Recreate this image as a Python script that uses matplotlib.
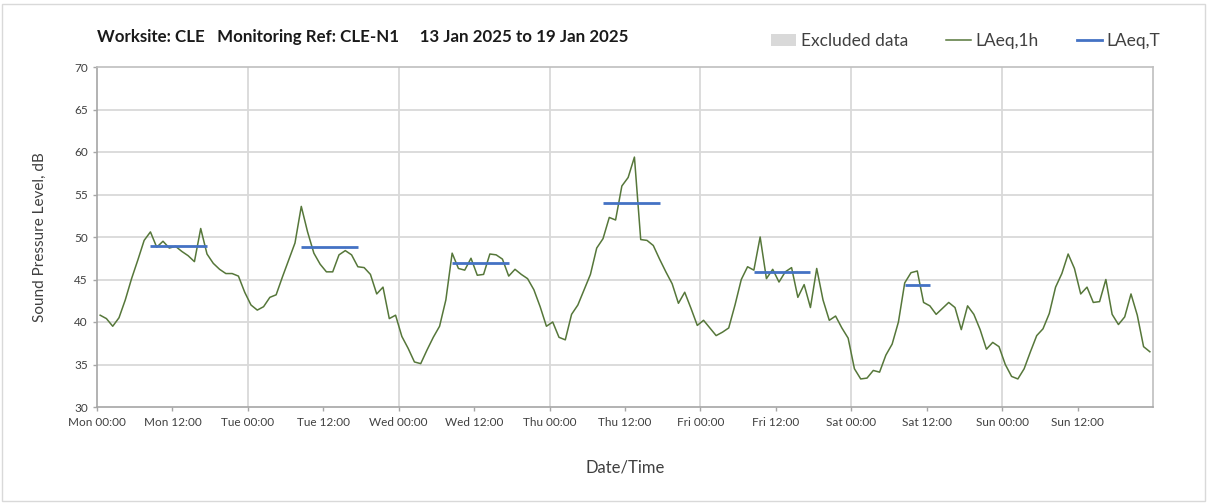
import numpy as np
import pandas as pd
import matplotlib
matplotlib.use("Agg")
import matplotlib.pyplot as plt
from matplotlib.patches import Patch, Rectangle
from matplotlib.lines import Line2D

plt.rcParams['font.family'] = ['Lato', 'DejaVu Sans']

# ---- data ----
start = "2025-01-13 00:30"
laeq_1h = [
    40.8, 40.4, 39.5, 40.5, 42.6, 45.1, 47.3, 49.6, 50.6, 48.8,
    49.5, 48.7, 48.9, 48.3, 47.8, 47.1, 51.0, 48.0, 46.9, 46.2,
    45.7, 45.7, 45.4, 43.5, 42.0, 41.4, 41.8, 42.9, 43.2, 45.3,
    47.3, 49.3, 53.6, 50.6, 48.1, 46.8, 45.9, 45.9, 47.9, 48.4,
    47.9, 46.5, 46.4, 45.6, 43.3, 44.1, 40.4, 40.8, 38.3, 36.9,
    35.3, 35.1, 36.7, 38.2, 39.5, 42.6, 48.1, 46.3, 46.1, 47.5,
    45.5, 45.6, 48.0, 47.9, 47.4, 45.4, 46.2, 45.6, 45.1, 43.8,
    41.8, 39.5, 40.0, 38.2, 37.9, 40.9, 42.0, 43.8, 45.6, 48.7,
    49.8, 52.3, 52.0, 56.0, 57.0, 59.4, 49.7, 49.6, 49.0, 47.4,
    45.9, 44.5, 42.2, 43.5, 41.6, 39.6, 40.2, 39.3, 38.4, 38.8,
    39.3, 42.0, 45.0, 46.5, 46.1, 50.0, 45.1, 46.2, 44.7, 45.9,
    46.4, 42.9, 44.4, 41.7, 46.3, 42.6, 40.2, 40.7, 39.3, 38.1,
    34.5, 33.3, 33.4, 34.3, 34.1, 36.1, 37.4, 40.0, 44.6, 45.8,
    46.0, 42.3, 41.9, 40.9, 41.6, 42.3, 41.7, 39.1, 41.9, 40.9,
    39.1, 36.8, 37.6, 37.1, 35.0, 33.6, 33.3, 34.5, 36.5, 38.4,
    39.2, 41.0, 44.1, 45.7, 48.0, 46.3, 43.3, 44.1, 42.3, 42.4,
    45.0, 40.9, 39.7, 40.6, 43.3, 40.8, 37.1, 36.5,
]
# LAeq,T periods (first and last hourly mid-point) and values
period_start = ["2025-01-13 08:30", "2025-01-14 08:30", "2025-01-15 08:30",
                "2025-01-16 08:30", "2025-01-17 08:30", "2025-01-18 08:30"]
period_end = ["2025-01-13 17:30", "2025-01-14 17:30", "2025-01-15 17:30",
              "2025-01-16 17:30", "2025-01-17 17:30", "2025-01-18 12:30"]
laeq_T = [49.0, 48.8, 46.9, 54.0, 45.9, 44.4]

x_start = "2025-01-13 00:00"
x_end = "2025-01-20 00:00"
y_min, y_max, y_step = 30, 70, 5

times = pd.date_range(start, periods=len(laeq_1h), freq="h")

# ---- figure ----
fig = plt.figure(figsize=(12.08, 5.03), dpi=100)
ax = fig.add_axes([97/1208, 1-407/503, (1153-97)/1208, (407-67)/503])

green = '#56773a'
blue = '#4472c4'

ax.plot(times, laeq_1h, color=green, lw=1.1, zorder=3)
for s, e, v in zip(period_start, period_end, laeq_T):
    ax.plot([pd.Timestamp(s), pd.Timestamp(e)], [v, v], color=blue, lw=2.0,
            solid_capstyle='butt', zorder=4)

ax.set_xlim(pd.Timestamp(x_start), pd.Timestamp(x_end))
ax.set_ylim(y_min, y_max)
ax.set_yticks(np.arange(y_min, y_max + 1, y_step))

ticks = pd.date_range(x_start, x_end, freq="12h")[:-1]
ax.set_xticks(ticks)
ax.set_xticklabels([t.strftime("%a %H:%M") for t in ticks])

# gridlines
for yv in np.arange(y_min + y_step, y_max, y_step):
    ax.axhline(yv, color='#d9d9d9', lw=1.3, zorder=1)
for t in pd.date_range(x_start, x_end, freq="24h")[1:-1]:
    ax.axvline(t, color='#d9d9d9', lw=1.3, zorder=1)

for sp in ax.spines.values():
    sp.set_color('#bfbfbf')
    sp.set_linewidth(1.2)
ax.spines['left'].set_color('#a6a6a6')
ax.spines['bottom'].set_color('#a6a6a6')

ax.tick_params(axis='both', colors='#a6a6a6', labelcolor='#404040',
               labelsize=8.5, length=3, width=1)
ax.tick_params(axis='x', pad=4)

ax.set_ylabel("Sound Pressure Level, dB", fontsize=11, color='#404040', labelpad=20)
ax.set_xlabel("Date/Time", fontsize=12, color='#404040', labelpad=23)

fig.text(97/1208, 1-37/503, "Worksite: CLE   Monitoring Ref: CLE-N1     13 Jan 2025 to 19 Jan 2025",
         fontsize=12.2, fontweight='bold', color='#1a1a1a', va='center', ha='left')

handles = [Patch(facecolor='#d9d9d9', edgecolor='none'),
           Line2D([], [], color=green, lw=1.1),
           Line2D([], [], color=blue, lw=2.0)]
labels = ["Excluded data", "LAeq,1h", "LAeq,T"]
fig.legend(handles, labels, ncol=3, frameon=False, fontsize=12.5,
           loc='center right', bbox_to_anchor=(1176/1208, 1-41/503),
           handlelength=1.45, handletextpad=0.25, columnspacing=2.2,
           labelcolor='#404040')

fig.patches.append(Rectangle((2/1208, 2/503), 1203/1208, 497/503, transform=fig.transFigure,
                             fill=False, edgecolor='#d9d9d9', lw=1.0))

fig.savefig("out.png", dpi=100)
